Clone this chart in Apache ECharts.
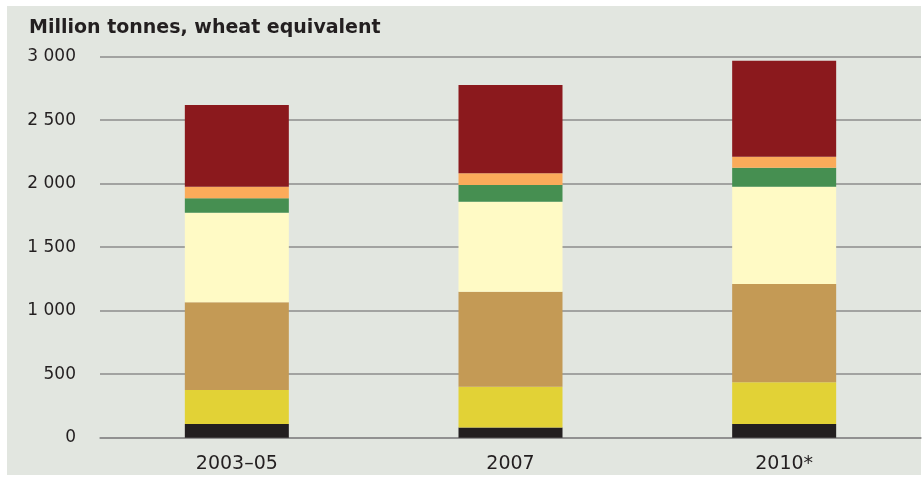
<!DOCTYPE html>
<html>
<head>
<meta charset="utf-8">
<script src="https://cdn.jsdelivr.net/npm/echarts@6/dist/echarts.min.js"></script>
<style>
  html, body { margin: 0; padding: 0; background: #fff; }
  #chart { width: 923px; height: 477px; }
</style>
</head>
<body>
<div id="chart"></div>
<script>
// categories and stacked values (million tonnes, wheat equivalent), bottom to top
var categories = ['2003–05', '2007', '2010*'];
var yTicks = [0, 500, 1000, 1500, 2000, 2500, 3000];

var blackVals  = [108, 80, 108];
var yellowVals = [268, 322, 328];
var tanVals    = [690, 748, 774];
var paleVals   = [706, 708, 766];
var greenVals  = [113, 132, 150];
var orangeVals = [91, 92, 87];
var redVals    = [644, 695, 755];

var layers = [
  { name: 'black',  data: blackVals,  color: '#231f20' },
  { name: 'yellow', data: yellowVals, color: '#e2d236' },
  { name: 'tan',    data: tanVals,    color: '#c49a55' },
  { name: 'pale',   data: paleVals,   color: '#fffac5' },
  { name: 'green',  data: greenVals,  color: '#468f51' },
  { name: 'orange', data: orangeVals, color: '#fbab5a' },
  { name: 'red',    data: redVals,    color: '#8b191d' }
];

var chart = echarts.init(document.getElementById('chart'));

chart.setOption({
  backgroundColor: '#fff',
  animation: false,
  graphic: [{
    type: 'rect',
    z: -10,
    shape: { x: 7, y: 6, width: 914, height: 469 },
    style: { fill: '#e2e6e0' }
  }],
  title: {
    text: 'Million tonnes, wheat equivalent',
    left: 24,
    top: 14,
    textStyle: {
      fontFamily: 'DejaVu Sans',
      fontSize: 19,
      fontWeight: 'bold',
      color: '#231f20'
    }
  },
  grid: {
    left: 100,
    right: 2,
    top: 56.7,
    bottom: 39.3
  },
  xAxis: {
    type: 'category',
    data: categories,
    axisTick: { show: false },
    axisLine: {
      show: true,
      lineStyle: { color: '#8c8c8c', width: 1.5 }
    },
    axisLabel: {
      margin: 17,
      fontFamily: 'DejaVu Sans',
      fontSize: 19,
      color: '#231f20'
    }
  },
  yAxis: {
    type: 'value',
    min: yTicks[0],
    max: yTicks[yTicks.length - 1],
    interval: 500,
    axisLine: { show: false },
    axisTick: { show: false },
    splitLine: {
      show: true,
      lineStyle: { color: '#8c8c8c', width: 1.5 }
    },
    axisLabel: {
      margin: 24,
      fontFamily: 'DejaVu Sans',
      fontSize: 17,
      color: '#231f20',
      formatter: function (v) {
        return String(v).replace(/\B(?=(\d{3})+(?!\d))/g, ' ');
      }
    }
  },
  series: layers.map(function (l) {
    return {
      name: l.name,
      type: 'bar',
      stack: 'total',
      barWidth: 104,
      itemStyle: { color: l.color },
      data: l.data
    };
  })
});
</script>
</body>
</html>
